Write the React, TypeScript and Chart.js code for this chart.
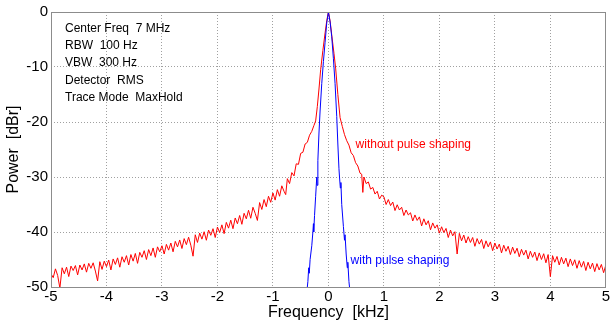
import React, { useEffect, useRef } from "react";
import { Chart, registerables } from "chart.js";

Chart.register(...registerables);

// Spectrum without pulse shaping (frequency in kHz, power in dBr)
const redFreq = [
  -5.0, -4.96, -4.92, -4.88, -4.84, -4.8, -4.76, -4.72, -4.68, -4.64, -4.6, -4.56, -4.52, -4.48, -4.44, -4.4, -4.36, -4.32, -4.28, -4.24,
  -4.2, -4.16, -4.12, -4.08, -4.04, -4.0, -3.96, -3.92, -3.88, -3.84, -3.8, -3.76, -3.72, -3.68, -3.64, -3.6, -3.56, -3.52, -3.48, -3.44,
  -3.4, -3.36, -3.32, -3.28, -3.24, -3.2, -3.16, -3.12, -3.08, -3.04, -3.0, -2.96, -2.92, -2.88, -2.84, -2.8, -2.76, -2.72, -2.68, -2.64,
  -2.6, -2.56, -2.52, -2.48, -2.44, -2.4, -2.36, -2.32, -2.28, -2.24, -2.2, -2.16, -2.12, -2.08, -2.04, -2.0, -1.96, -1.92, -1.88, -1.84,
  -1.8, -1.76, -1.72, -1.68, -1.64, -1.6, -1.56, -1.52, -1.48, -1.44, -1.4, -1.36, -1.32, -1.28, -1.24, -1.2, -1.16, -1.12, -1.08, -1.04,
  -1.0, -0.96, -0.92, -0.88, -0.84, -0.8, -0.77, -0.74, -0.7, -0.66, -0.62, -0.58, -0.54, -0.5, -0.46, -0.42, -0.38, -0.34, -0.3, -0.26,
  -0.23, -0.2, -0.17, -0.14, -0.1, -0.06, -0.03, 0, 0.03, 0.06, 0.1, 0.13, 0.17, 0.21, 0.25, 0.29, 0.33, 0.37, 0.41, 0.45,
  0.49, 0.53, 0.57, 0.6, 0.62, 0.64, 0.68, 0.72, 0.76, 0.8, 0.84, 0.88, 0.92, 0.96,
  1.0, 1.04, 1.08, 1.12, 1.16, 1.2, 1.24, 1.28, 1.32, 1.36, 1.4, 1.44, 1.48, 1.52, 1.56, 1.6, 1.64, 1.68, 1.72, 1.76,
  1.8, 1.84, 1.88, 1.92, 1.96, 2.0, 2.04, 2.08, 2.12, 2.16, 2.2, 2.24, 2.28, 2.32, 2.36, 2.4, 2.44, 2.48, 2.52, 2.56,
  2.6, 2.64, 2.68, 2.72, 2.76, 2.8, 2.84, 2.88, 2.92, 2.96, 3.0, 3.04, 3.08, 3.12, 3.16, 3.2, 3.24, 3.28, 3.32, 3.36,
  3.4, 3.44, 3.48, 3.52, 3.56, 3.6, 3.64, 3.68, 3.72, 3.76, 3.8, 3.84, 3.88, 3.92, 3.96, 4.0, 4.04, 4.08, 4.12, 4.16,
  4.2, 4.24, 4.28, 4.32, 4.36, 4.4, 4.44, 4.48, 4.52, 4.56, 4.6, 4.64, 4.68, 4.72, 4.76, 4.8, 4.84, 4.88, 4.92, 4.96,
  5.0,
];
const redPower = [
  -47.6, -48.3, -46.7, -47.9, -50.2, -46.5, -47.6, -46.4, -48.1, -46.2, -47.0, -46.1, -47.8, -46.0, -46.9, -45.8, -47.3, -45.7, -46.6, -45.6,
  -47.1, -48.9, -45.4, -46.8, -45.3, -46.3, -45.1, -46.9, -44.9, -45.9, -44.7, -46.4, -44.5, -45.5, -44.3, -46.0, -44.1, -45.3, -43.9, -45.7,
  -43.7, -44.6, -43.4, -45.0, -43.2, -44.3, -42.9, -44.6, -42.7, -43.6, -42.5, -44.0, -42.25, -43.3, -42.0, -43.6, -41.7, -42.7, -41.45, -43.0,
  -41.2, -42.3, -40.95, -42.4, -44.4, -40.5, -41.9, -40.2, -41.3, -39.95, -41.5, -39.65, -40.6, -39.4, -41.0, -39.1, -40.1, -38.7, -40.3, -38.25,
  -39.3, -37.85, -39.4, -37.45, -38.5, -37.0, -38.6, -36.6, -37.6, -36.05, -37.5, -35.5, -36.6, -37.9, -34.65, -35.9, -34.1, -35.4, -33.5, -34.6,
  -32.9, -34.2, -32.3, -33.5, -31.6, -32.6, -33.2, -30.3, -31.2, -29.2, -29.8, -27.6, -27.7, -25.7, -25.5, -24.0, -23.7, -22.4, -21.7, -20.6,
  -19.8, -17.2, -14.0, -10.5, -7.0, -3.8, -1.6, 0.0, -1.6, -4.2, -7.5, -10.2, -15.0, -19.2, -20.8, -22.3, -23.4, -24.2, -25.6, -26.1,
  -27.4, -28.0, -29.3, -29.5, -32.8, -30.0, -31.2, -30.9, -32.2, -31.9, -33.1, -32.6, -34.0, -33.3,
  -33.6, -35.0, -34.1, -35.2, -34.55, -36.1, -35.05, -36.0, -35.5, -37.0, -36.0, -36.9, -36.5, -38.0, -36.9, -37.9, -37.25, -38.9, -37.6, -38.7,
  -37.95, -39.6, -38.35, -39.3, -38.7, -40.2, -39.05, -40.1, -39.35, -41.0, -39.65, -40.7, -39.95, -44.0, -40.25, -41.6, -40.55, -42.0, -40.85, -41.9,
  -41.0, -42.6, -41.2, -42.2, -41.35, -43.0, -41.6, -42.7, -41.8, -43.4, -42.0, -43.1, -42.2, -43.8, -42.4, -43.5, -42.6, -44.1, -42.75, -43.9,
  -42.95, -44.5, -43.15, -44.2, -43.3, -44.9, -43.5, -44.6, -43.65, -45.2, -43.8, -45.0, -43.95, -45.6, -44.1, -48.1, -44.3, -45.5, -44.45, -46.0,
  -44.6, -45.8, -44.75, -46.3, -44.9, -46.1, -45.05, -46.6, -45.2, -46.4, -45.35, -47.0, -45.5, -46.7, -45.65, -47.2, -45.75, -46.9, -45.9, -47.4,
  -46.0,
];

// Spectrum with pulse shaping
const blueFreq = [
  -0.39, -0.37, -0.355, -0.345, -0.33, -0.3, -0.28, -0.27, -0.265, -0.25, -0.23, -0.21, -0.205, -0.19, -0.17, -0.15, -0.12, -0.09, -0.06, -0.03,
  0, 0.03, 0.06, 0.09, 0.12, 0.15, 0.17, 0.19, 0.2, 0.215, 0.225, 0.24, 0.27, 0.29, 0.3, 0.32, 0.34, 0.35, 0.37, 0.39,
];
const bluePower = [
  -51.0, -49.0, -46.5, -47.5, -45.0, -42.5, -40.0, -38.5, -40.0, -37.0, -33.5, -30.0, -31.5, -27.0, -22.0, -18.0, -13.0, -9.0, -5.5, -2.0,
  0.0, -1.8, -4.5, -8.5, -13.0, -19.0, -24.0, -28.5, -30.0, -32.0, -31.0, -35.0, -39.0, -41.5, -40.5, -44.0, -46.5, -45.5, -49.0, -51.0,
];

const infoLines = ["Center Freq  7 MHz", "RBW  100 Hz", "VBW  300 Hz", "Detector  RMS", "Trace Mode  MaxHold"];
const redLabel = "without pulse shaping";
const blueLabel = "with pulse shaping";

const FONT = "'Liberation Sans', Arial, Helvetica, sans-serif";

const annotationPlugin = {
  id: "annotations",
  afterDatasetsDraw(chart: any) {
    const { ctx, chartArea, scales } = chart;
    const { left, top, right, bottom } = chartArea;
    ctx.save();
    // axes box
    ctx.strokeStyle = "#8c8c8c";
    ctx.lineWidth = 1;
    ctx.setLineDash([]);
    ctx.strokeRect(Math.round(left) + 0.5, Math.round(top) + 0.5, Math.round(right - left) - 1, Math.round(bottom - top));
    // info text
    ctx.font = `12px ${FONT}`;
    ctx.textBaseline = "middle";
    ctx.textAlign = "left";
    ctx.fillStyle = "#000";
    infoLines.forEach((t, i) => {
      ctx.fillText(t, left + 14, top + 16.5 + i * 17.3);
    });
    // series labels
    ctx.fillStyle = "#ff0000";
    ctx.fillText(redLabel, scales.x.getPixelForValue(0.49), scales.y.getPixelForValue(-24.2));
    ctx.fillStyle = "#0000ff";
    ctx.fillText(blueLabel, scales.x.getPixelForValue(0.4), scales.y.getPixelForValue(-45.3));
    ctx.restore();
  },
};

export default function App() {
  const ref = useRef<HTMLCanvasElement>(null);
  useEffect(() => {
    if (!ref.current) return;
    const toPts = (xs: number[], ys: number[]) => xs.map((x, i) => ({ x, y: ys[i] }));
    const gridCommon = {
      color: "#a0a0a0",
      lineWidth: 1,
      drawTicks: false,
    };
    const chart = new Chart(ref.current, {
      type: "line",
      data: {
        datasets: [
          {
            data: toPts(blueFreq, bluePower),
            borderColor: "#0000ff",
            borderWidth: 1,
            pointRadius: 0,
            tension: 0,
          },
          {
            data: toPts(redFreq, redPower),
            borderColor: "#ff0000",
            borderWidth: 1,
            pointRadius: 0,
            tension: 0,
          },
        ],
      },
      options: {
        animation: false,
        responsive: false,
        devicePixelRatio: 1,
        layout: { padding: { top: 11, right: 3, left: 0, bottom: 0 } },
        plugins: { legend: { display: false }, tooltip: { enabled: false } },
        scales: {
          x: {
            type: "linear",
            min: -5,
            max: 5,
            border: { display: false, dash: [1, 2] },
            grid: gridCommon,
            ticks: {
              stepSize: 1,
              color: "#000",
              padding: 1,
              maxRotation: 0,
              autoSkip: false,
              font: { family: FONT, size: 15 },
            },
            title: {
              display: true,
              text: "Frequency  [kHz]",
              color: "#000",
              font: { family: FONT, size: 16 },
              padding: { top: 0, bottom: 5 },
            },
            afterFit(scale: any) {
              scale.height = 40;
            },
          },
          y: {
            type: "linear",
            min: -50,
            max: 0,
            border: { display: false, dash: [1, 2] },
            grid: gridCommon,
            ticks: {
              stepSize: 10,
              color: "#000",
              padding: 3,
              font: { family: FONT, size: 15 },
            },
            title: {
              display: true,
              text: "Power  [dBr]",
              color: "#000",
              font: { family: FONT, size: 16 },
              padding: { top: 4, bottom: 0 },
            },
            afterFit(scale: any) {
              scale.width = 51;
            },
          },
        },
      } as any,
      plugins: [annotationPlugin],
    });
    return () => chart.destroy();
  }, []);
  return (
    <div style={{ position: "absolute", left: 0, top: 0, width: 611, height: 327, background: "#fff" }}>
      <canvas ref={ref} width={611} height={327} style={{ display: "block", width: 611, height: 327 }} />
    </div>
  );
}
